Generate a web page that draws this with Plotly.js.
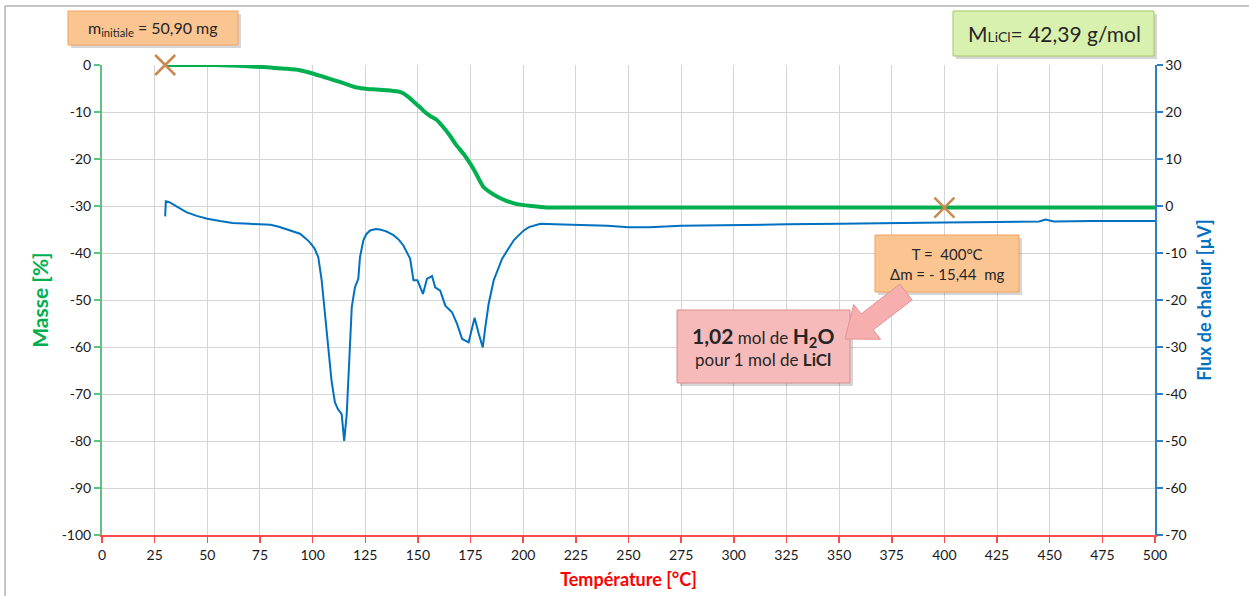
<!DOCTYPE html>
<html>
<head>
<meta charset="utf-8">
<script src="https://cdn.plot.ly/plotly-3.0.1.min.js"></script>
<style>html,body{margin:0;padding:0;background:#fff;}#chart{width:1249px;height:596px;}</style>
</head>
<body>
<div id="chart"></div>
<script>
// ---- Data ----
const massT = [30,40,50,57,65,73,80,88,94,100,105,110,115,121,126,130,135,140,143,146,148,151,153,156,159,162,165,168,172,175,177,179,181,184,188,192,197,204,211,220,300,400,500];
const massV = [0,0,0,-0.05,-0.15,-0.35,-0.55,-0.8,-1.1,-1.8,-2.5,-3.2,-3.9,-4.8,-5.1,-5.2,-5.35,-5.6,-6.0,-7.0,-7.8,-9.0,-9.9,-10.9,-11.7,-13.2,-14.9,-16.9,-19.1,-21.1,-22.6,-24.3,-25.9,-27.0,-28.1,-28.9,-29.6,-30.0,-30.3,-30.33,-30.33,-30.33,-30.33];

const fluxT = [30,30.3,32,36,40,45,50,56,62,70,75,80,84,88,91,94,97,99,101,102.7,104.3,105.9,107.4,109,110.6,112,113.8,115,116.2,117,117.8,118.6,120.1,121.7,122.5,124.1,125.5,127.3,130,132,135,138.4,141,143.1,146.3,147.9,149.8,152.4,154.3,156.7,158.2,160.6,163,166.2,168.6,171,174.1,175.7,176.9,178.9,180.8,182,183.6,186,190,195.5,200,202.7,208.2,215,225,240,250,260,275,300,325,350,375,400,425,445,448,452,470,490,500];
const fluxV = [-2.2,1.0,0.8,-0.3,-1.3,-2.1,-2.7,-3.2,-3.6,-3.8,-3.9,-4.0,-4.4,-5.0,-5.3,-5.9,-7.0,-7.9,-9.1,-10.9,-15.8,-22.9,-30.1,-37.2,-41.8,-43.2,-44.3,-50.0,-44.3,-37.2,-27.9,-21.5,-17.3,-15.5,-10.9,-7.3,-6.0,-5.2,-4.9,-5.0,-5.4,-6.2,-7.2,-8.4,-11.2,-15.8,-15.8,-18.7,-15.5,-14.9,-17.3,-18.0,-21.2,-22.6,-25.1,-28.3,-29.0,-25.8,-23.8,-27.2,-30.1,-25.8,-20.8,-15.8,-11.2,-7.3,-5.3,-4.5,-3.8,-3.9,-4.0,-4.2,-4.5,-4.5,-4.2,-4.0,-3.9,-3.8,-3.6,-3.5,-3.4,-3.3,-2.9,-3.3,-3.2,-3.1,-3.2];

const markT = [30, 400];
const markM = [0, -30.33];

const yTicks = [0,-10,-20,-30,-40,-50,-60,-70,-80,-90,-100];
const yTickText = ['0','-10','-20','-30','-40','-50','-60','-70','-80','-90','-100'];
const y2Ticks = [30,20,10,0,-10,-20,-30,-40,-50,-60,-70];
const y2TickText = ['30','20','10','0','-10','-20','-30','-40','-50','-60','-70'];

const xTitle = 'Température [°C]';
const yTitle = 'Masse [%]';
const y2Title = 'Flux de chaleur [µV]';

// ---- Layout helpers (pixel -> paper) ----
const W = 1249, H = 596;
const M = {l: 102, r: 94, t: 65, b: 61};
const PW = W - M.l - M.r, PH = H - M.t - M.b;
const px = x => (x - M.l) / PW;
const py = y => (H - M.b - y) / PH;

function rect(x0, y0, x1, y1, fill, line, shadow) {
  const out = [];
  if (shadow) out.push({type:'rect', xref:'paper', yref:'paper', x0:px(x0+3), x1:px(x1+3), y0:py(y0+3), y1:py(y1+3), fillcolor:'rgba(0,0,0,0.16)', line:{width:0}, layer:'above'});
  out.push({type:'rect', xref:'paper', yref:'paper', x0:px(x0), x1:px(x1), y0:py(y0), y1:py(y1), fillcolor:fill, line:{color:line, width:1}, layer:'above'});
  return out;
}

function blockArrow(tx, ty, hx, hy, sw, hw, hl) {
  const dx = hx - tx, dy = hy - ty, L = Math.hypot(dx, dy);
  const ux = dx / L, uy = dy / L, nx = -uy, ny = ux;
  const bx = hx - ux * hl, by = hy - uy * hl;
  const pts = [
    [tx + nx*sw, ty + ny*sw], [bx + nx*sw, by + ny*sw], [bx + nx*hw, by + ny*hw],
    [hx, hy],
    [bx - nx*hw, by - ny*hw], [bx - nx*sw, by - ny*sw], [tx - nx*sw, ty - ny*sw]
  ];
  const d = 'M ' + pts.map(p => px(p[0]) + ',' + py(p[1])).join(' L ') + ' Z';
  return {type:'path', xref:'paper', yref:'paper', path:d, fillcolor:'#F6AEAE', line:{color:'#E39494', width:1}, layer:'above'};
}

const FONT = 'Lato, "Open Sans", sans-serif';

const shapes = [].concat(
  [{type:'rect', xref:'paper', yref:'paper', x0:px(5), x1:px(1260), y0:py(6), y1:py(610), fillcolor:'rgba(0,0,0,0)', line:{color:'#8C8C8C', width:1}, layer:'below'}],
  rect(68, 11, 238, 45, '#FBC592', '#F3A25E', true),
  rect(953, 11, 1154, 56, '#D9F1AE', '#A5C766', true),
  rect(875, 235, 1019, 292, '#FBC592', '#F3A25E', true),
  rect(677, 310, 850, 383, '#F7BABA', '#D98E8E', true),
  [blockArrow(906, 292, 845, 339, 10, 22, 28)]
);

const annotations = [
  {xref:'paper', yref:'paper', x:px(153), y:py(29), xanchor:'center', yanchor:'middle', showarrow:false,
   text:'m<sub>initiale</sub> = 50,90 mg', font:{family:FONT, size:16, color:'#262626'}},
  {xref:'paper', yref:'paper', x:px(1054), y:py(34), xanchor:'center', yanchor:'middle', showarrow:false,
   text:'M<span style="font-size:14px">LiCl</span>= 42,39 g/mol', font:{family:FONT, size:21, color:'#262626'}},
  {xref:'paper', yref:'paper', x:px(947), y:py(264), xanchor:'center', yanchor:'middle', showarrow:false,
   text:'T =  400°C<br>Δm = - 15,44  mg', font:{family:FONT, size:15, color:'#262626'}},
  {xref:'paper', yref:'paper', x:px(763), y:py(346), xanchor:'center', yanchor:'middle', showarrow:false,
   text:'<span style="font-size:21px"><b>1,02</b></span> mol de <span style="font-size:21px"><b>H<sub>2</sub>O</b></span><br>pour 1 mol de <b>LiCl</b>',
   font:{family:FONT, size:17, color:'#262626'}}
];

const traces = [
  {x: fluxT, y: fluxV, yaxis:'y2', type:'scatter', mode:'lines', line:{color:'#0070C0', width:2}, hoverinfo:'skip'},
  {x: massT, y: massV, type:'scatter', mode:'lines', line:{color:'#00B050', width:4, shape:'spline', smoothing:0.5}, hoverinfo:'skip'},
  {x: markT, y: markM, type:'scatter', mode:'markers', marker:{symbol:'x-thin-open', size:20, line:{color:'#C8894E', width:2.5}, color:'#C8894E'}, cliponaxis:false, hoverinfo:'skip'}
];

const TICKFONT = {family:FONT, size:14, color:'#1A1A1A'};

const layout = {
  width: W, height: H,
  margin: M,
  paper_bgcolor:'#FFFFFF', plot_bgcolor:'#FFFFFF',
  showlegend:false,
  font:{family:FONT, size:14, color:'#1F1F1F'},
  xaxis:{
    range:[0,500], dtick:25, tick0:0, showgrid:true, gridcolor:'#D4D4D4', gridwidth:1, zeroline:false,
    showline:true, linecolor:'#FF4B4B', linewidth:2, ticks:'outside', tickcolor:'#FF4B4B', ticklen:6, tickwidth:1.5,
    tickfont:TICKFONT,
    title:{text:xTitle, font:{family:FONT, size:18, color:'#FF0000', weight:'bold'}, standoff:12}
  },
  yaxis:{
    range:[-100,0], tickmode:'array', tickvals:yTicks, ticktext:yTickText, showgrid:true, gridcolor:'#D4D4D4', gridwidth:1, zeroline:false,
    showline:true, linecolor:'#5DC47F', linewidth:2, ticks:'outside', tickcolor:'#5DC47F', ticklen:6, tickwidth:1.5,
    tickfont:TICKFONT,
    title:{text:yTitle, font:{family:FONT, size:21, color:'#00B050', weight:'bold'}, standoff:7}
  },
  yaxis2:{
    overlaying:'y', side:'right', range:[-70,30], tickmode:'array', tickvals:y2Ticks, ticktext:y2TickText, showgrid:false, zeroline:false,
    showline:true, linecolor:'#2E7FC4', linewidth:1.5, ticks:'outside', tickcolor:'#2E7FC4', ticklen:6, tickwidth:1.5,
    tickfont:TICKFONT,
    title:{text:y2Title, font:{family:FONT, size:18, color:'#0070C0', weight:'bold'}, standoff:12}
  },
  shapes: shapes,
  annotations: annotations
};

Plotly.newPlot('chart', traces, layout, {displayModeBar:false, staticPlot:true});
</script>
</body>
</html>
